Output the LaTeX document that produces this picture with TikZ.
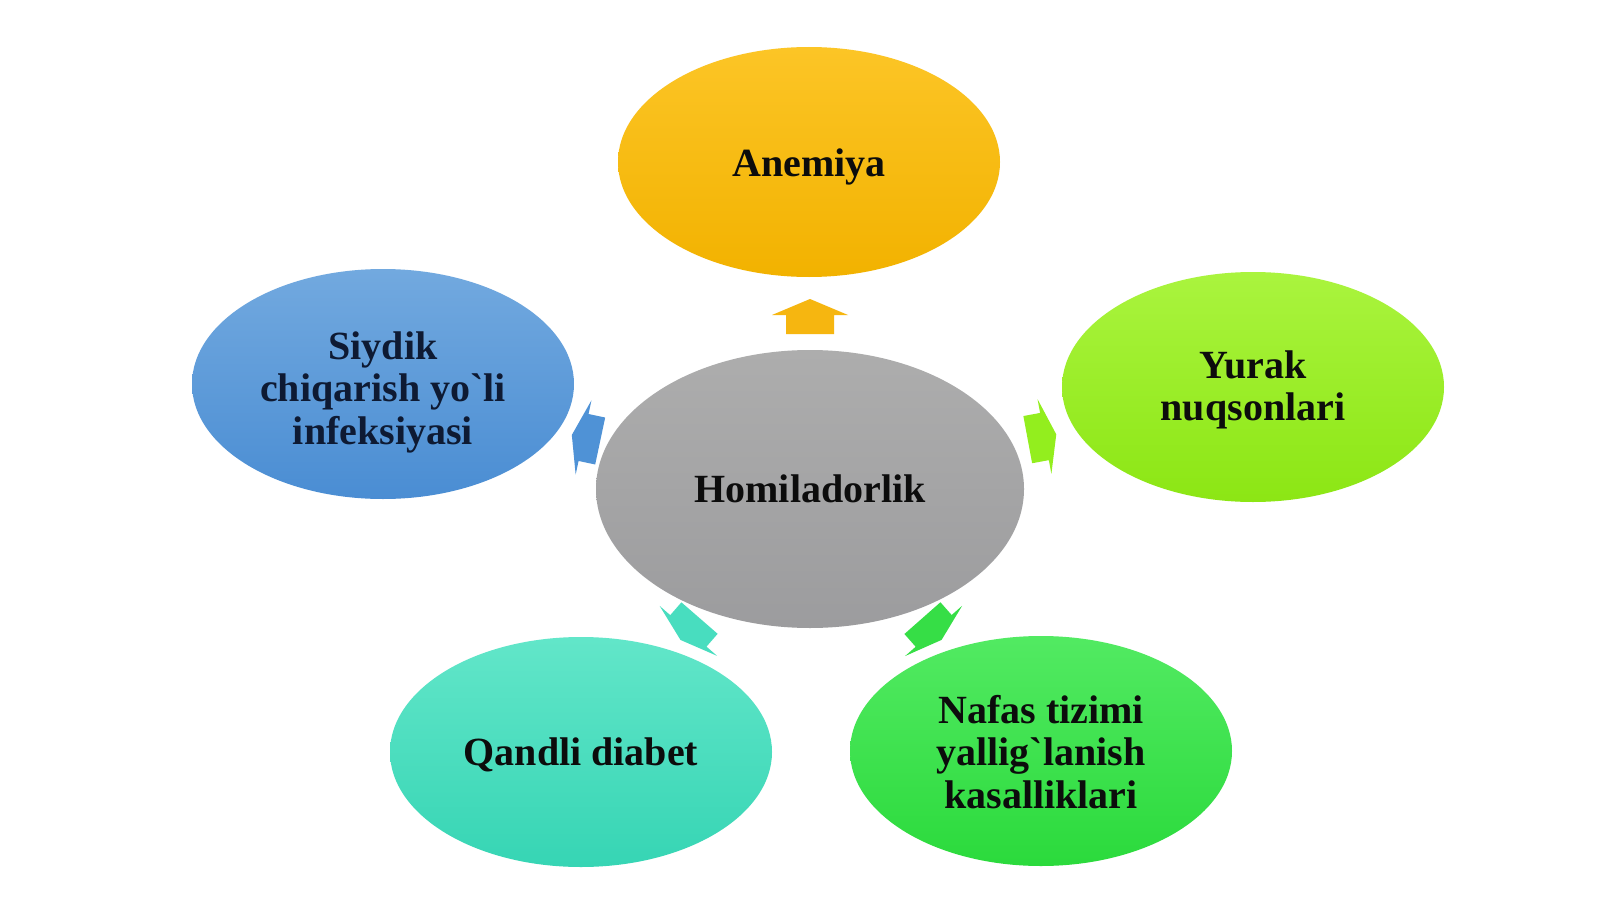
\documentclass[tikz,border=0pt]{standalone}
\usepackage{fontspec}
\setmainfont{Liberation Serif}[Ligatures=TeXOff]
\usetikzlibrary{shapes.geometric,calc}
\definecolor{anT}{HTML}{FCC526}
\definecolor{anB}{HTML}{F2B200}
\definecolor{hoT}{HTML}{ADADAD}
\definecolor{hoB}{HTML}{9C9C9E}
\definecolor{siT}{HTML}{72A9DF}
\definecolor{siB}{HTML}{4A8DD3}
\definecolor{yuT}{HTML}{AAF43E}
\definecolor{yuB}{HTML}{8CE614}
\definecolor{qaT}{HTML}{62E6C9}
\definecolor{qaB}{HTML}{36D5B4}
\definecolor{naT}{HTML}{52EA62}
\definecolor{naB}{HTML}{2BDA3C}
\definecolor{arU}{HTML}{F6B610}
\definecolor{arL}{HTML}{4F92D6}
\definecolor{arR}{HTML}{93EE1E}
\definecolor{arBL}{HTML}{48DDBF}
\definecolor{arBR}{HTML}{36DE46}
\definecolor{txt}{HTML}{0C0C0C}
\definecolor{txtnavy}{HTML}{0E1A33}
\tikzset{
  bubble/.style={ellipse, inner sep=0pt},
  outer/.style={bubble, minimum width=191pt, minimum height=115pt},
  hub/.style={bubble, minimum width=214pt, minimum height=139pt},
  lbl/.style={inner sep=0pt, align=center,
    font=\fontsize{20}{21.25}\selectfont\bfseries, text=txt}
}
% #1 x, #2 y, #3 angle, #4 length, #5 head length, #6 colour
\newcommand\blkarrow[6]{%
  \fill[#6, shift={(#1,#2)}, rotate=#3]
    (-#4/2,-24) -- (#4/2-#5,-24) -- (#4/2-#5,-38) -- (#4/2,0)
    -- (#4/2-#5,38) -- (#4/2-#5,24) -- (-#4/2,24) -- cycle;}
\begin{document}
\begin{tikzpicture}[x=0.5pt,y=-0.5pt]
\useasboundingbox[fill=white] (0,0) rectangle (1600,899);
\node[hub, top color=hoT, bottom color=hoB] (ho) at (810,489) {};
\node[outer, top color=anT, bottom color=anB] (an) at (809,162) {};
\node[outer, top color=siT, bottom color=siB] (si) at (383,384) {};
\node[outer, top color=yuT, bottom color=yuB] (yu) at (1253,387) {};
\node[outer, top color=qaT, bottom color=qaB] (qa) at (581,752) {};
\node[outer, top color=naT, bottom color=naB] (na) at (1041,751) {};
\node[lbl] (ho-t) at ($(ho.center)+(0,0)$) {Homiladorlik};
\node[lbl] (an-t) at ($(an.center)+(0,5)$) {Anemiya};
\node[lbl, text=txtnavy] (si-t) at ($(si.center)+(0,8)$)
  {Siydik\\chiqarish yo`li\\infeksiyasi};
\node[lbl] (yu-t) at ($(yu.center)+(0,3)$) {Yurak\\nuqsonlari};
\node[lbl] (qa-t) at ($(qa.center)+(0,3)$) {Qandli diabet};
\node[lbl] (na-t) at ($(na.center)+(0,1)$)
  {Nafas tizimi\\yallig`lanish\\kasalliklari};
\blkarrow{810}{316.5}{90}{35}{16}{arU}
\blkarrow{586}{438}{168}{29}{12}{arL}
\blkarrow{1042}{437}{10.5}{29}{12}{arR}
\blkarrow{690}{629}{229}{29}{12}{arBL}
\blkarrow{932}{629}{-48.6}{29}{12}{arBR}
\end{tikzpicture}
\end{document}
